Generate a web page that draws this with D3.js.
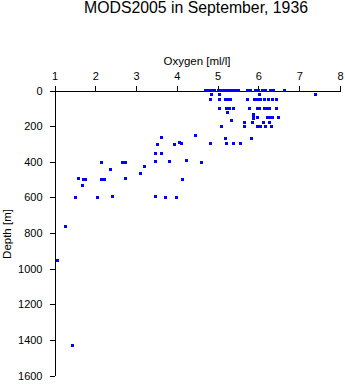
<!DOCTYPE html>
<html><head><meta charset="utf-8">
<script src="https://cdn.jsdelivr.net/npm/d3@7"></script>
<style>body{margin:0;background:#fff}svg{display:block}text{font-family:"Liberation Sans",Arial,Helvetica,sans-serif;fill:#000}</style>
</head><body><svg id="c" width="345" height="384"></svg>
<script>
const title = "MODS2005 in September, 1936";
const xLabel = "Oxygen [ml/l]";
const yLabel = "Depth [m]";
const xTicks = [1,2,3,4,5,6,7,8];
const yTicks = [0,200,400,600,800,1000,1200,1400,1600];
const oxygen = [
 4.70,4.78,4.85,4.92,5.02,5.09,5.15,5.22,5.30,5.36,5.45,5.52,5.72,5.80,5.92,6.00,6.10,6.18,6.30,6.37,6.64,
 7.40,
 4.85,5.05,6.02,
 4.83,5.05,5.20,5.26,5.32,5.72,5.90,5.98,6.06,6.14,6.25,6.35,6.44,
 5.05,5.21,5.30,5.39,5.78,5.98,6.03,6.14,6.22,6.28,6.45,
 5.25,
 5.87,5.87,5.87,5.98,6.22,6.28,6.35,6.49,
 5.35,
 5.65,5.85,6.13,6.27,
 5.10,5.67,5.98,6.06,6.18,6.32,
 4.46,
 5.20,5.82,
 3.53,3.95,4.06,4.12,4.83,5.22,5.40,5.57,
 3.63,
 3.47,3.63,
 2.16,2.67,2.75,3.47,3.83,4.23,4.61,
 3.20,2.37,3.12,
 1.60,1.70,1.75,2.16,2.23,2.73,4.15,
 1.69,
 1.52,2.06,2.43,3.48,3.73,4.00,
 1.28,1.07,1.43
];
const depth = [
 0,0,0,0,0,0,0,0,0,0,0,0,0,0,0,0,0,0,0,0,0,
 24,
 25,25,25,
 50,50,50,50,50,50,50,50,50,50,50,50,50,
 100,100,100,100,100,100,100,100,100,100,100,
 125,
 135,145,155,150,150,150,150,150,
 167,
 181,181,181,181,
 200,200,200,200,200,200,
 250,
 272,272,
 305,305,290,300,300,300,300,300,
 266,
 356,356,
 403,403,403,401,399,393,403,
 427,446,468,
 496,500,500,500,500,496,502,
 534,
 603,603,596,596,603,603,
 766,957,1434
];

const svg = d3.select("#c");
const x = d3.scaleLinear().domain([1,8]).range([54,339.5]);
const y = d3.scaleLinear().domain([0,1600]).range([90,375]);

svg.append("text").attr("x",196).attr("y",13).attr("text-anchor","middle")
  .style("font-size","15.8px").text(title);
svg.append("text").attr("x",197).attr("y",65).attr("text-anchor","middle")
  .style("font-size","11.5px").text(xLabel);
svg.append("text").attr("transform","translate(11,234) rotate(-90)").attr("text-anchor","middle")
  .style("font-size","11.5px").text(yLabel);

const gx = svg.append("g").attr("transform","translate(0.5,90.5)")
  .call(d3.axisTop(x).tickValues(xTicks).tickFormat(d3.format("d")).tickSize(5).tickSizeOuter(0).tickPadding(6));
const gy = svg.append("g").attr("transform","translate(54.5,0.5)")
  .call(d3.axisLeft(y).tickValues(yTicks).tickFormat(d3.format("d")).tickSize(5).tickSizeOuter(0).tickPadding(7));
[gx,gy].forEach(g=>{
  g.selectAll("text").style("font-size","11px").attr("fill","#000").style("font-family",'"Liberation Sans",Arial,sans-serif');
  g.selectAll("line,path").attr("stroke","#000").attr("shape-rendering","crispEdges");
});

svg.append("g").selectAll("rect").data(oxygen).join("rect")
  .attr("x",(d)=>Math.round(x(d))-1.5+0.5)
  .attr("y",(d,i)=>Math.round(y(depth[i]))-1.5+0.5)
  .attr("width",3).attr("height",3).attr("fill","#0000ff")
  .attr("shape-rendering","crispEdges");
</script></body></html>
